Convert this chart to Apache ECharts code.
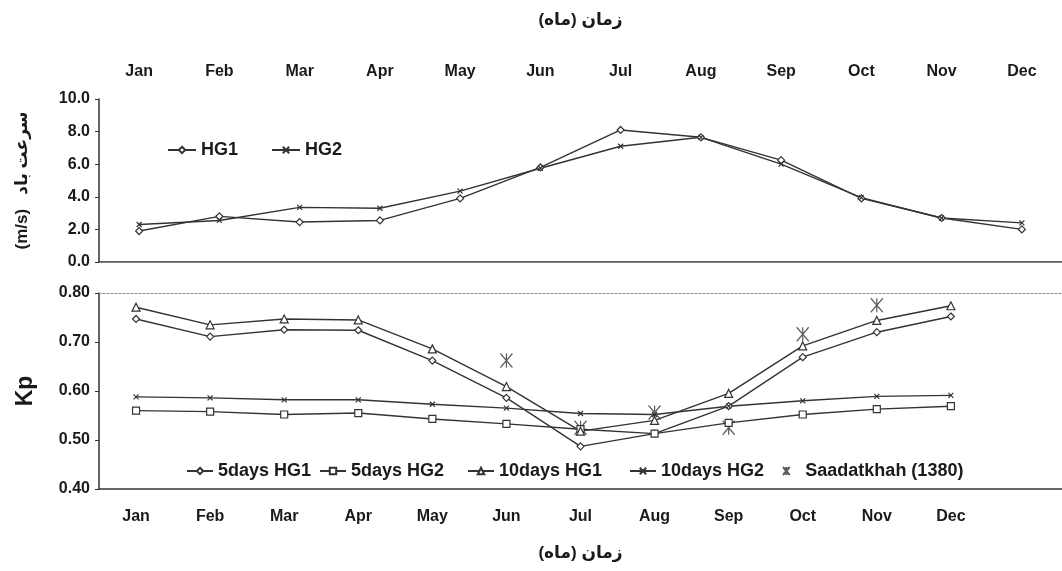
<!DOCTYPE html>
<html lang="en">
<head>
	<meta charset="UTF-8">
	<title>Kp</title>
	<script type="text/javascript" src="https://cdn.jsdelivr.net/npm/echarts@6/dist/echarts.min.js"></script>
	<style>
		html, body { margin: 0; padding: 0; background: #fff; }
		#chart_show { width: 1062px; height: 571px; }
	</style>
</head>
<body>
	<div id="chart_show"></div>
	<script>
        // 数据
        var months = ['Jan','Feb','Mar','Apr','May','Jun','Jul','Aug','Sep','Oct','Nov','Dec'];
        var monthsLow = months.concat(['']);
        var speedTicks = [0, 2, 4, 6, 8, 10];
        var kpTicks = [0.4, 0.5, 0.6, 0.7, 0.8];

        var hg1 = [1.9, 2.8, 2.45, 2.55, 3.9, 5.8, 8.1, 7.65, 6.25, 3.9, 2.7, 2.0];
        var hg2 = [2.3, 2.55, 3.35, 3.3, 4.35, 5.75, 7.1, 7.65, 6.0, 3.95, 2.7, 2.4];

        var d5hg1 = [0.747, 0.711, 0.725, 0.724, 0.662, 0.586, 0.487, 0.513, 0.569, 0.669, 0.720, 0.752];
        var d5hg2 = [0.560, 0.558, 0.552, 0.555, 0.543, 0.533, 0.522, 0.513, 0.535, 0.552, 0.563, 0.569];
        var d10hg1 = [0.771, 0.735, 0.747, 0.745, 0.686, 0.609, 0.518, 0.540, 0.595, 0.692, 0.744, 0.774];
        var d10hg2 = [0.588, 0.586, 0.582, 0.582, 0.573, 0.565, 0.554, 0.552, 0.569, 0.580, 0.589, 0.591];
        var saadat = [null, null, null, null, null, 0.662, 0.525, 0.556, 0.525, 0.716, 0.775, null];

        var ink = '#333';
        var font = 'Liberation Sans, Arial, DejaVu Sans, sans-serif';
        var crossPath = 'path://M0,0L10,10M0,10L10,0';
        var starPath = 'path://M0,0L10,12M0,12L10,0M5,0L5,12';

        function lineSeries(name, data, symbol, x, y, size) {
            var cross = symbol === crossPath;
            return {
                name: name,
                type: 'line',
                xAxisIndex: x,
                yAxisIndex: y,
                data: data,
                symbol: symbol,
                symbolSize: size,
                lineStyle: {color: ink, width: 1.4},
                itemStyle: {color: cross ? ink : '#fff', borderColor: ink, borderWidth: 1.2},
                animation: false
            };
        }

        var oChart = echarts.init(document.getElementById('chart_show'), null, {renderer: 'canvas'});

        var axisText = {color: '#1a1a1a', fontWeight: 'bold', fontSize: 16, fontFamily: font};
        var legendText = {color: '#1a1a1a', fontWeight: 'bold', fontSize: 18, fontFamily: font};

        // 下方图例逐项定位
        var lowNames = ['5days HG1', '5days HG2', '10days HG1', '10days HG2', 'Saadatkhah (1380)'];
        var lowLeft = [181, 314, 462, 624, 777];
        var legends = [{
            data: ['HG1', 'HG2'],
            left: 162, top: 136,
            itemWidth: 28, itemHeight: 8, itemGap: 33,
            textStyle: legendText
        }];
        lowNames.forEach(function (n, i) {
            legends.push({
                data: [n],
                left: lowLeft[i], top: 457,
                itemWidth: i === 4 ? 12 : 26, itemHeight: 8,
                textStyle: Object.assign({padding: [0, 0, 0, i === 4 ? 8 : 0]}, legendText)
            });
        });

        var chartopt = {
            backgroundColor: '#fff',
            animation: false,
            grid: [
                {left: 99, top: 99, width: 967, height: 163},
                {left: 99, top: 293, width: 972, height: 196}
            ],
            legend: legends,
            xAxis: [
                {
                    gridIndex: 0, type: 'category', position: 'top', data: months, boundaryGap: true,
                    name: 'زمان (ماه)', nameLocation: 'middle', nameGap: 70,
                    nameTextStyle: {color: '#1a1a1a', fontSize: 17, fontWeight: 'bold', fontFamily: font},
                    axisLine: {lineStyle: {color: ink, width: 1.5}},
                    axisTick: {length: 4, lineStyle: {color: ink}},
                    axisLabel: Object.assign({margin: 19}, axisText),
                    splitLine: {show: false}
                },
                {
                    gridIndex: 1, type: 'category', position: 'bottom', data: monthsLow, boundaryGap: true,
                    name: 'زمان (ماه)', nameLocation: 'middle', nameGap: 56,
                    nameTextStyle: {color: '#1a1a1a', fontSize: 17, fontWeight: 'bold', fontFamily: font},
                    axisLine: {lineStyle: {color: ink, width: 1.5}},
                    axisTick: {length: 4, lineStyle: {color: ink}},
                    axisLabel: Object.assign({margin: 20}, axisText),
                    splitLine: {show: false}
                },
                {
                    gridIndex: 0, type: 'category', position: 'bottom', data: months,
                    axisLine: {lineStyle: {color: '#888', width: 1.2, type: [2, 2]}},
                    axisTick: {show: false}, axisLabel: {show: false}
                },
                {
                    gridIndex: 1, type: 'category', position: 'top', data: monthsLow,
                    axisLine: {lineStyle: {color: '#888', width: 1.2, type: [2, 2]}},
                    axisTick: {show: false}, axisLabel: {show: false}
                }
            ],
            yAxis: [
                {
                    gridIndex: 0, type: 'value',
                    min: speedTicks[0], max: speedTicks[speedTicks.length - 1], interval: 2,
                    name: '(m/s)   سرعت باد', nameLocation: 'middle', nameRotate: 90, nameGap: 68,
                    nameTextStyle: {color: '#1a1a1a', fontSize: 17, fontWeight: 'bold', fontFamily: font},
                    axisLine: {show: true, lineStyle: {color: ink, width: 1.5}},
                    axisTick: {show: true, length: 4, lineStyle: {color: ink}},
                    axisLabel: Object.assign({margin: 9, formatter: function (v) { return v.toFixed(1); }}, axisText),
                    splitLine: {show: false}
                },
                {
                    gridIndex: 1, type: 'value',
                    min: kpTicks[0], max: kpTicks[kpTicks.length - 1], interval: 0.1,
                    name: 'Kp', nameLocation: 'middle', nameRotate: 90, nameGap: 62,
                    nameTextStyle: {color: '#1a1a1a', fontSize: 23, fontWeight: 'bold', fontFamily: font},
                    axisLine: {show: true, lineStyle: {color: ink, width: 1.5}},
                    axisTick: {show: true, length: 4, lineStyle: {color: ink}},
                    axisLabel: Object.assign({margin: 9, formatter: function (v) { return v.toFixed(2); }}, axisText),
                    splitLine: {show: false}
                }
            ],
            series: [
                lineSeries('HG1', hg1, 'diamond', 0, 0, 7),
                lineSeries('HG2', hg2, crossPath, 0, 0, 5),
                lineSeries('5days HG1', d5hg1, 'diamond', 1, 1, 7),
                lineSeries('5days HG2', d5hg2, 'rect', 1, 1, 7),
                lineSeries('10days HG1', d10hg1, 'triangle', 1, 1, 8),
                lineSeries('10days HG2', d10hg2, crossPath, 1, 1, 5),
                {
                    name: 'Saadatkhah (1380)',
                    type: 'scatter',
                    xAxisIndex: 1,
                    yAxisIndex: 1,
                    data: saadat,
                    symbol: starPath,
                    symbolSize: [12, 14],
                    itemStyle: {color: ink, borderColor: ink, borderWidth: 1.3}
                }
            ]
        };
        oChart.setOption(chartopt);
	</script>
</body>
</html>
